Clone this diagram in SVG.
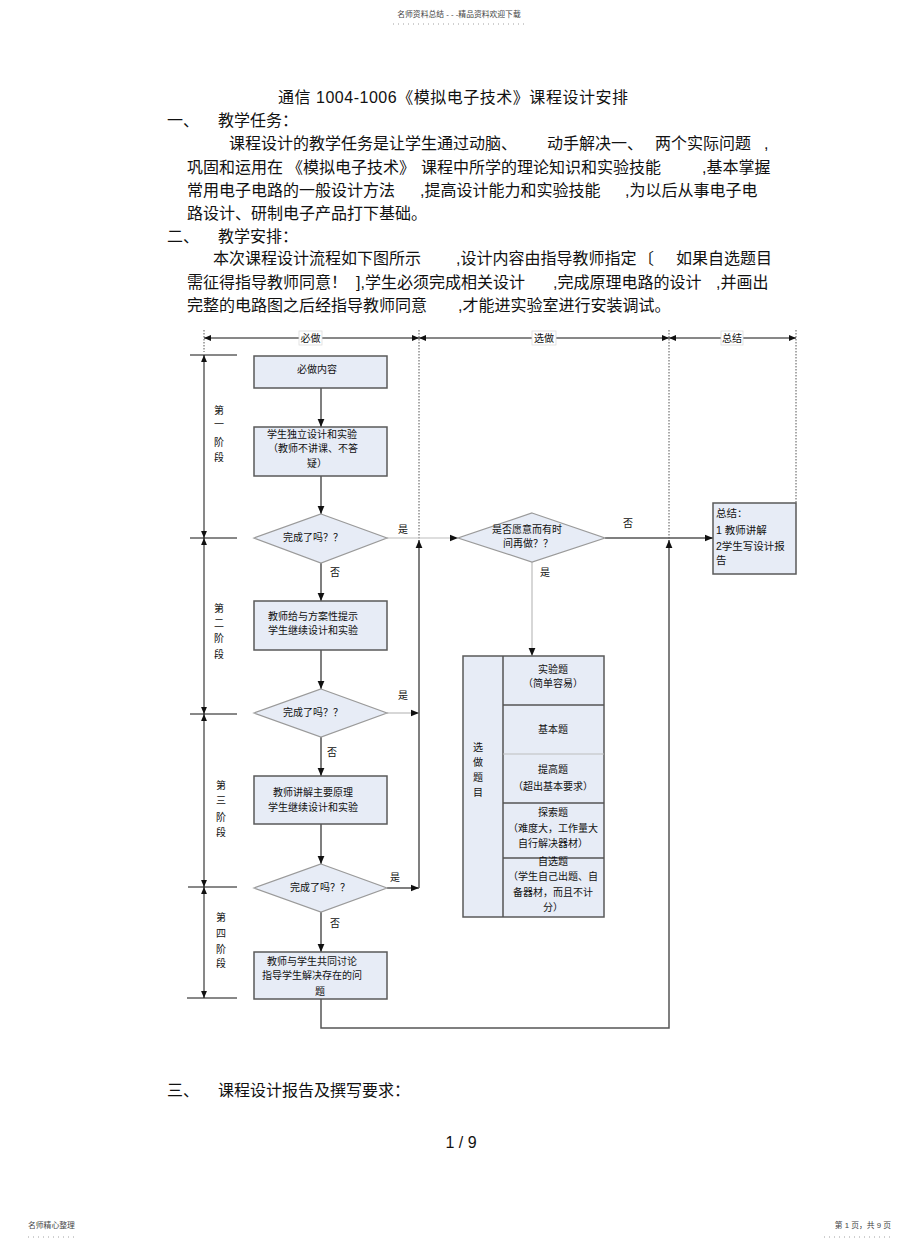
<svg xmlns="http://www.w3.org/2000/svg" width="920" height="1248" viewBox="0 0 920 1248">
<style>
.body{font-family:"Liberation Sans","Noto Sans CJK SC",sans-serif;font-size:16px;fill:#111}
.small{font-family:"Liberation Sans","Noto Sans CJK SC",sans-serif;font-size:7.8px;fill:#444}
.t{font-family:"Liberation Sans","Noto Sans CJK SC",sans-serif;font-size:10.5px;fill:#111}
.tm{font-family:"Liberation Sans","Noto Sans CJK SC",sans-serif;font-size:10px;fill:#111;text-anchor:middle}
.box{fill:#e7ecf6;stroke:#5a5a5a;stroke-width:1.5}
.dia{fill:#e7ecf6;stroke:#9a9a9a;stroke-width:1.2}
.con{fill:none;stroke:#555;stroke-width:1.5}
.lite{fill:none;stroke:#bdbdbd;stroke-width:1.2}
.dim{fill:none;stroke:#111;stroke-width:1}
.dot{fill:none;stroke:#555;stroke-width:1;stroke-dasharray:1.5 1.5}
.lab{fill:#fff;stroke:#ddd;stroke-width:0.8}
.dl{fill:none;stroke:#888;stroke-width:0.8;stroke-dasharray:1 4}
</style>
<defs>
<marker id="arr" viewBox="0 0 10 10" refX="10" refY="5" markerWidth="9" markerHeight="8" orient="auto-start-reverse" markerUnits="userSpaceOnUse"><path d="M0,0.8 L10,5 L0,9.2 z" fill="#111"/></marker>
<marker id="arrs" viewBox="0 0 10 10" refX="10" refY="5" markerWidth="8" markerHeight="7" orient="auto-start-reverse" markerUnits="userSpaceOnUse"><path d="M0,0.8 L10,5 L0,9.2 z" fill="#111"/></marker>
</defs>
<rect width="920" height="1248" fill="#fff"/>

<!-- page header/footer -->
<g id="page-header">
<text class="small" x="459" y="17" text-anchor="middle">名师资料总结 - - -精品资料欢迎下载</text>
<line class="dl" x1="393" y1="24" x2="527" y2="24"/>
</g>
<g id="page-footer">
<text class="small" x="28" y="1228">名师精心整理</text>
<line class="dl" x1="28" y1="1237" x2="76" y2="1237"/>
<text class="small" x="891" y="1228" text-anchor="end">第 1 页，共 9 页</text>
<line class="dl" x1="824" y1="1237" x2="892" y2="1237"/>
</g>

<!-- document text -->
<g id="doc-text" class="body">
<text x="278" y="103" textLength="350" lengthAdjust="spacing">通信 1004-1006《模拟电子技术》课程设计安排</text>
<text x="167" y="126">一、</text><text x="218" y="126">教学任务：</text>
<text y="149"><tspan x="229">课程设计的教学任务是让学生通过动脑、</tspan><tspan x="547">动手解决一、</tspan><tspan x="655">两个实际问题</tspan><tspan x="764">,</tspan></text>
<text y="173"><tspan x="187">巩固和运用在</tspan><tspan x="287">《模拟电子技术》</tspan><tspan x="421">课程中所学的理论知识和实验技能</tspan><tspan x="702">,基本掌握</tspan></text>
<text y="196"><tspan x="187">常用电子电路的一般设计方法</tspan><tspan x="420">,提高设计能力和实验技能</tspan><tspan x="625">,为以后从事电子电</tspan></text>
<text y="219"><tspan x="187">路设计、研制电子产品打下基础。</tspan></text>
<text x="167" y="242">二、</text><text x="218" y="242">教学安排：</text>
<text y="264"><tspan x="213">本次课程设计流程如下图所示</tspan><tspan x="456">,设计内容由指导教师指定</tspan><tspan x="638">〔</tspan><tspan x="676">如果自选题目</tspan></text>
<text y="288"><tspan x="187">需征得指导教师同意！</tspan><tspan x="356">],学生必须完成相关设计</tspan><tspan x="553">,完成原理电路的设计</tspan><tspan x="716">,并画出</tspan></text>
<text y="311"><tspan x="187">完整的电路图之后经指导教师同意</tspan><tspan x="458">,才能进实验室进行安装调试。</tspan></text>
<text x="167" y="1096">三、</text><text x="218" y="1096">课程设计报告及撰写要求：</text>
<text x="461" y="1148" text-anchor="middle">1 / 9</text>
</g>

<!-- swimlane dimension guides -->
<g id="lanes">
<line class="dot" x1="204" y1="330" x2="204" y2="352"/>
<line class="dot" x1="419" y1="330" x2="419" y2="540"/>
<line class="dot" x1="669" y1="330" x2="669" y2="540"/>
<line class="dot" x1="796" y1="330" x2="796" y2="503"/>
<line class="dim" x1="204" y1="338" x2="419" y2="338" marker-start="url(#arrs)" marker-end="url(#arrs)"/>
<line class="dim" x1="419" y1="338" x2="669" y2="338" marker-start="url(#arrs)" marker-end="url(#arrs)"/>
<line class="dim" x1="669" y1="338" x2="796" y2="338" marker-start="url(#arrs)" marker-end="url(#arrs)"/>
<rect class="lab" x="299" y="331" width="23" height="14"/>
<text class="tm" x="310.5" y="341.5">必做</text>
<rect class="lab" x="532" y="331" width="24" height="14"/>
<text class="tm" x="544" y="341.5">选做</text>
<rect class="lab" x="721" y="331" width="22" height="14"/>
<text class="tm" x="732" y="341.5">总结</text>
</g>

<g id="stages">
<line class="dim" x1="190" y1="355" x2="237" y2="355"/>
<line class="dim" x1="190" y1="538" x2="237" y2="538"/>
<line class="dim" x1="190" y1="714" x2="237" y2="714"/>
<line class="dim" x1="188" y1="887" x2="237" y2="887"/>
<line class="dim" x1="187" y1="998" x2="237" y2="998"/>
<line class="dim" x1="204" y1="355" x2="204" y2="538" marker-start="url(#arrs)" marker-end="url(#arrs)"/>
<line class="dim" x1="204" y1="538" x2="204" y2="714" marker-start="url(#arrs)" marker-end="url(#arrs)"/>
<line class="dim" x1="204" y1="714" x2="204" y2="887" marker-start="url(#arrs)" marker-end="url(#arrs)"/>
<line class="dim" x1="204" y1="887" x2="204" y2="998" marker-start="url(#arrs)" marker-end="url(#arrs)"/>
<g class="tm">
<text x="219" y="414">第</text><text x="219" y="428">一</text><text x="219" y="446">阶</text><text x="219" y="461">段</text>
<text x="219" y="612">第</text><text x="219" y="627">二</text><text x="219" y="642">阶</text><text x="219" y="658">段</text>
<text x="221" y="789">第</text><text x="221" y="804">三</text><text x="221" y="821">阶</text><text x="221" y="836">段</text>
<text x="221" y="921">第</text><text x="221" y="937">四</text><text x="221" y="953">阶</text><text x="221" y="967">段</text>
</g>
</g>

<!-- connectors -->
<g id="connectors">
<line class="con" x1="321" y1="388" x2="321" y2="427" marker-end="url(#arr)"/>
<line class="con" x1="321" y1="476" x2="321" y2="514" marker-end="url(#arr)"/>
<line class="lite" x1="387" y1="538" x2="458" y2="538" marker-end="url(#arr)"/>
<line class="con" x1="321" y1="563" x2="321" y2="601" marker-end="url(#arr)"/>
<line class="con" x1="321" y1="650" x2="321" y2="689" marker-end="url(#arr)"/>
<line class="lite" x1="387" y1="713" x2="419" y2="713" marker-end="url(#arr)"/>
<line class="con" x1="321" y1="737" x2="321" y2="776" marker-end="url(#arr)"/>
<line class="con" x1="321" y1="824" x2="321" y2="864" marker-end="url(#arr)"/>
<line class="con" x1="387" y1="888" x2="419" y2="888" marker-end="url(#arr)"/>
<line class="con" x1="419" y1="888" x2="419" y2="540" marker-end="url(#arr)"/>
<line class="con" x1="321" y1="912" x2="321" y2="952" marker-end="url(#arr)"/>
<polyline class="con" points="321,999 321,1028 669,1028 669,540" marker-end="url(#arr)"/>
<line class="con" x1="605" y1="538" x2="713" y2="538" marker-end="url(#arr)"/>
<line class="lite" x1="532" y1="562" x2="532" y2="656" marker-end="url(#arr)"/>
<g class="tm">
<text x="403" y="533">是</text>
<text x="335" y="576">否</text>
<text x="403" y="699">是</text>
<text x="332" y="756">否</text>
<text x="395" y="881">是</text>
<text x="335" y="927">否</text>
<text x="628" y="527">否</text>
<text x="545" y="576">是</text>
</g>
</g>

<!-- nodes -->
<g id="n-start">
<rect class="box" x="254" y="356" width="133" height="32"/>
<text class="tm" x="317" y="373">必做内容</text>
</g>
<g id="n-self">
<rect class="box" x="254" y="427" width="133" height="49"/>
<text class="tm" x="312" y="438">学生独立设计和实验</text>
<text class="tm" x="313" y="452">（教师不讲课、不答</text>
<text class="tm" x="317" y="467">疑）</text>
</g>
<g id="n-check1">
<polygon class="dia" points="321,514 387,538 321,563 254,538"/>
<text class="tm" x="313" y="541">完成了吗？？</text>
</g>
<g id="n-hint">
<rect class="box" x="254" y="601" width="133" height="49"/>
<text class="tm" x="313" y="620">教师给与方案性提示</text>
<text class="tm" x="313" y="634">学生继续设计和实验</text>
</g>
<g id="n-check2">
<polygon class="dia" points="321,689 387,713 321,737 254,713"/>
<text class="tm" x="313" y="716">完成了吗？？</text>
</g>
<g id="n-explain">
<rect class="box" x="254" y="776" width="133" height="48"/>
<text class="tm" x="313" y="796">教师讲解主要原理</text>
<text class="tm" x="313" y="811">学生继续设计和实验</text>
</g>
<g id="n-check3">
<polygon class="dia" points="321,864 387,888 321,912 254,888"/>
<text class="tm" x="320" y="891">完成了吗？？</text>
</g>
<g id="n-discuss">
<rect class="box" x="254" y="952" width="133" height="47"/>
<text class="tm" x="312" y="965">教师与学生共同讨论</text>
<text class="tm" x="312" y="979">指导学生解决存在的问</text>
<text class="tm" x="320" y="995">题</text>
</g>
<g id="n-optional">
<polygon class="dia" points="532,513 605,538 532,562 458,538"/>
<text class="tm" x="527" y="533">是否愿意而有时</text>
<text class="tm" x="528" y="547">间再做？？</text>
</g>
<g id="n-summary">
<rect class="box" x="713" y="503" width="83" height="71"/>
<text class="t" x="716" y="517">总结：</text>
<text class="t" x="716" y="534">1 教师讲解</text>
<text class="t" x="716" y="550">2学生写设计报</text>
<text class="t" x="716" y="564">告</text>
</g>
<g id="n-topics">
<rect class="box" x="463" y="656" width="141" height="261"/>
<line class="con" x1="503" y1="656" x2="503" y2="917"/>
<line class="con" x1="503" y1="705" x2="604" y2="705"/>
<line class="lite" x1="503" y1="754" x2="604" y2="754"/>
<line class="con" x1="503" y1="803" x2="604" y2="803"/>
<line class="con" x1="503" y1="858" x2="604" y2="858"/>
<text class="tm" x="478" y="751">选</text>
<text class="tm" x="478" y="766">做</text>
<text class="tm" x="478" y="781">题</text>
<text class="tm" x="478" y="796">目</text>
<text class="tm" x="553" y="673">实验题</text>
<text class="tm" x="553" y="687">（简单容易）</text>
<text class="tm" x="553" y="733">基本题</text>
<text class="tm" x="553" y="773">提高题</text>
<text class="tm" x="553" y="790">（超出基本要求）</text>
<text class="tm" x="553" y="816">探索题</text>
<text class="tm" x="553" y="832">（难度大，工作量大</text>
<text class="tm" x="553" y="847">自行解决器材）</text>
<text class="tm" x="553" y="865">自选题</text>
<text class="tm" x="553" y="880">（学生自己出题、自</text>
<text class="tm" x="553" y="896">备器材，而且不计</text>
<text class="tm" x="553" y="911">分）</text>
</g>
</svg>
